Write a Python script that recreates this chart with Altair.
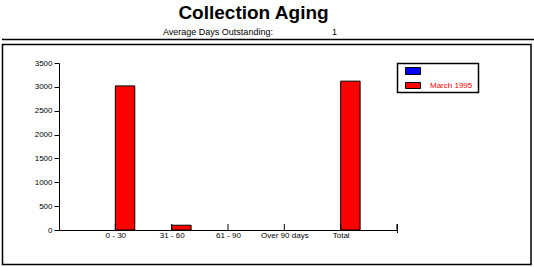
import json
import altair as alt
import pandas as pd

# ---- data ----
categories = ["0 - 30", "31 - 60", "61 - 90", "Over 90 days", "Total"]
series_names = ["", "March 1995"]
series_colors = ["#0000FF", "#FF0000"]
blank_series = [0, 0, 0, 0, 0]
march_1995 = [3020, 100, 0, 0, 3120]
y_ticks = [0, 500, 1000, 1500, 2000, 2500, 3000, 3500]
title_text = "Collection Aging"
subtitle_text = "Average Days Outstanding:"
subtitle_value = "1"

W, H = 338, 167
FONT = "Liberation Sans"

rows = []
for i, c in enumerate(categories):
    rows.append({"cat": c, "pos": i + 1, "series": series_names[0], "sidx": 0, "value": blank_series[i]})
    rows.append({"cat": c, "pos": i + 1, "series": series_names[1], "sidx": 1, "value": march_1995[i]})
df = pd.DataFrame(rows)

xscale = alt.Scale(domain=[0, len(categories) + 1], nice=False, zero=False)
yscale = alt.Scale(domain=[0, 3500], nice=False)

label_expr = "%s[datum.value - 1]" % json.dumps(categories)

bars = (
    alt.Chart(df)
    .transform_filter("datum.value > 0")
    .transform_calculate(x0="datum.pos + (datum.sidx - 1) * 0.345", x1="datum.pos + datum.sidx * 0.345")
    .mark_rect(stroke="black", strokeWidth=1)
    .encode(
        x=alt.X("x0:Q", scale=xscale,
                axis=alt.Axis(values=list(range(1, len(categories) + 1)), labelExpr=label_expr,
                              ticks=False, grid=False, title=None, domainColor="black",
                              labelFont=FONT, labelFontSize=8, labelColor="black", labelPadding=1)),
        x2="x1:Q",
        y=alt.Y("value:Q", scale=yscale,
                axis=alt.Axis(values=y_ticks, format="d", grid=False, title=None, domainColor="black",
                              tickColor="black", tickSize=5, labelFont=FONT, labelFontSize=8,
                              labelColor="black", labelPadding=2)),
        y2=alt.datum(0),
        color=alt.Color("series:N", scale=alt.Scale(domain=series_names, range=series_colors), legend=None),
    )
)

# upward category ticks on the x axis
tick_df = pd.DataFrame({"pos": list(range(1, len(categories) + 2))})
xticks = (
    alt.Chart(tick_df)
    .mark_rule(color="black", strokeWidth=1)
    .encode(x=alt.X("pos:Q", scale=xscale), y=alt.value(H - 6), y2=alt.value(H))
)
end_tick = (
    alt.Chart(alt.Data(values=[{}]))
    .mark_rule(color="black", strokeWidth=1)
    .encode(x=alt.value(W + 0.5), y=alt.value(H - 6), y2=alt.value(H + 3))
)

one = alt.Data(values=[{}])

title = alt.Chart(one).mark_text(text=title_text, font=FONT, fontSize=19, fontWeight="bold",
                                 align="center", baseline="alphabetic", color="black").encode(
    x=alt.value(194.5), y=alt.value(-44))
subtitle = alt.Chart(one).mark_text(text=subtitle_text, font=FONT, fontSize=9, align="left",
                                    baseline="alphabetic", color="black").encode(
    x=alt.value(104), y=alt.value(-28))
subval = alt.Chart(one).mark_text(text=subtitle_value, font=FONT, fontSize=9, align="left",
                                  baseline="alphabetic", color="black").encode(
    x=alt.value(273), y=alt.value(-28))

hline = alt.Chart(one).mark_rule(color="black", strokeWidth=1.5).encode(
    x=alt.value(-57), x2=alt.value(475), y=alt.value(-23.5))
frame = alt.Chart(one).mark_rect(fill="transparent", stroke="black", strokeWidth=1.5).encode(
    x=alt.value(-56.5), x2=alt.value(472), y=alt.value(-18.5), y2=alt.value(201.5))

leg_box = alt.Chart(one).mark_rect(fill="white", stroke="black", strokeWidth=1.5).encode(
    x=alt.value(338.5), x2=alt.value(419.5), y=alt.value(0.5), y2=alt.value(29.5))
leg_blue = alt.Chart(one).mark_rect(fill=series_colors[0], stroke="black", strokeWidth=1).encode(
    x=alt.value(346.5), x2=alt.value(361.5), y=alt.value(4.5), y2=alt.value(11.5))
leg_red = alt.Chart(one).mark_rect(fill=series_colors[1], stroke="black", strokeWidth=1).encode(
    x=alt.value(346.5), x2=alt.value(361.5), y=alt.value(19.5), y2=alt.value(25.5))
leg_text = alt.Chart(one).mark_text(text=series_names[1], font=FONT, fontSize=8, align="left",
                                    baseline="alphabetic", color=series_colors[1]).encode(
    x=alt.value(371), y=alt.value(25))

chart = (
    alt.layer(frame, hline, title, subtitle, subval, bars, xticks, end_tick,
              leg_box, leg_blue, leg_red, leg_text)
    .properties(width=W, height=H, padding={"left": 59, "top": 63, "right": 137, "bottom": 37},
                autosize=alt.AutoSizeParams(type="none"), background="white")
    .configure_view(stroke=None)
)

chart.save("out.html", embed_options={"renderer": "svg", "actions": False})
